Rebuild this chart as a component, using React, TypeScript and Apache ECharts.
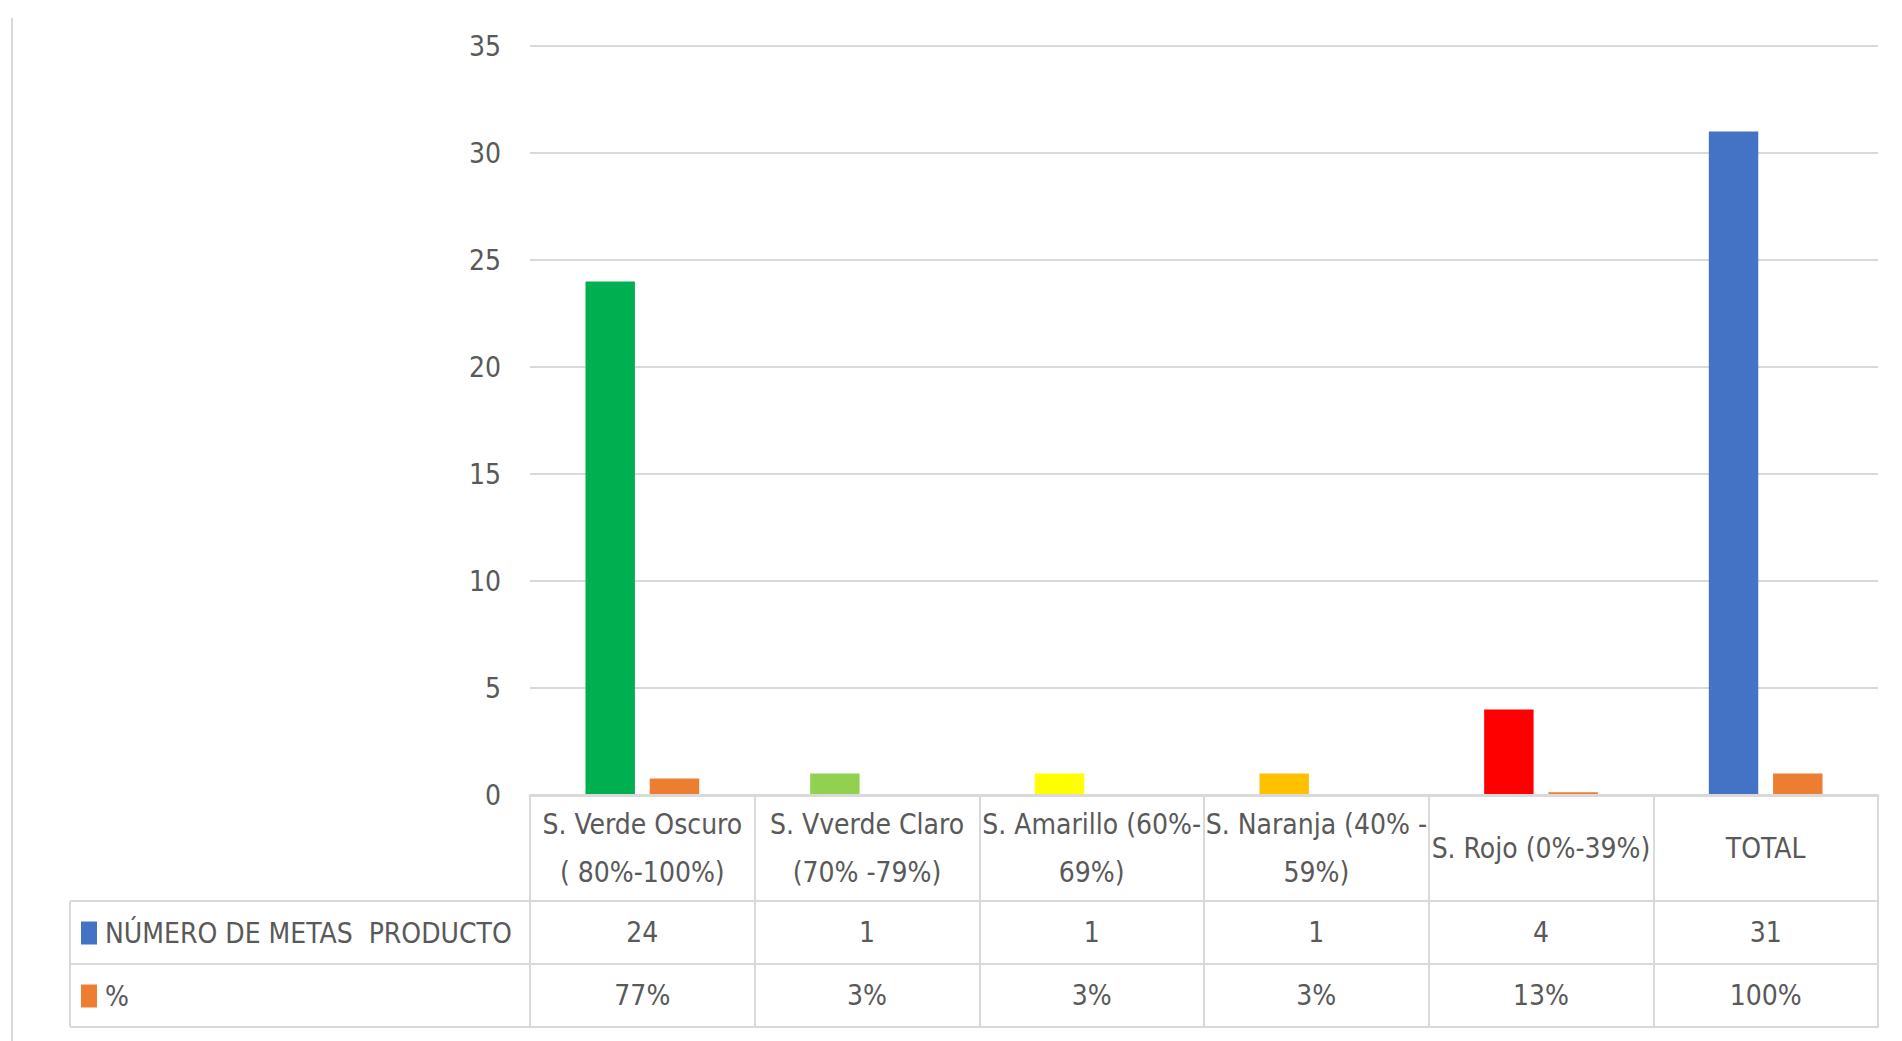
import React, { useEffect, useRef } from "react";
import * as echarts from "echarts";

const categories = [
  "S. Verde Oscuro\n( 80%-100%)",
  "S. Vverde Claro\n(70% -79%)",
  "S. Amarillo (60%-\n69%)",
  "S. Naranja (40% -\n59%)",
  "S. Rojo (0%-39%)",
  "TOTAL",
];
const metas = [24, 1, 1, 1, 4, 31];
const pct = [0.77, 0.03, 0.03, 0.03, 0.13, 1.0];
const barColors = ["#00B050", "#92D050", "#FFFF00", "#FFC000", "#FF0000", "#4472C4"];
const seriesNames = ["NÚMERO DE METAS  PRODUCTO", "%"];
const seriesColors = ["#4472C4", "#ED7D31"];
const yMin = 0;
const yMax = 35;
const yStep = 5;

const FONT = "'DejaVu Sans Condensed', 'Liberation Sans Narrow', sans-serif";
const FS = 28;
const TXT = "#595959";
const LINE = "#d9d9d9";

export default function App() {
  const ref = useRef<HTMLDivElement>(null);
  useEffect(() => {
    if (!ref.current) return;
    const chart = echarts.init(ref.current, null, { renderer: "svg" });
    const gridLeft = 530;
    const gridRight = 24;
    const gridTop = 46;
    const gridBottom = 246;
    const axisY = 1041 - gridBottom; // 795
    const row1 = 106;
    const row2 = 169;
    const row3 = 232;
    const lineStyle = { color: LINE, width: 2 };
    const baseX = {
      type: "category",
      data: categories,
      position: "bottom",
      axisTick: { show: false },
      splitLine: { show: false },
    };
    const legendBase = {
      orient: "vertical",
      left: 81,
      padding: 0,
      itemWidth: 16,
      itemHeight: 23,
      selectedMode: false,
      icon: "rect",
      textStyle: { fontFamily: FONT, fontSize: FS, color: TXT, padding: [0, 0, 0, 3] },
    };
    chart.setOption({
      animation: false,
      textStyle: { fontFamily: FONT },
      grid: { left: gridLeft, right: gridRight, top: gridTop, bottom: gridBottom },
      legend: [
        { ...legendBase, top: 919, data: [seriesNames[0]] },
        { ...legendBase, top: 982, data: [seriesNames[1]] },
      ],
      xAxis: [
        {
          ...baseX,
          z: 5,
          axisLine: { show: true, lineStyle: { color: LINE, width: 3 } },
          axisTick: { show: true, length: row3, interval: 0, lineStyle },
          axisLabel: {
            interval: 0,
            margin: 53,
            verticalAlign: "middle",
            lineHeight: 48,
            fontSize: FS,
            color: TXT,
            fontFamily: FONT,
          },
        },
        {
          ...baseX,
          offset: row1,
          axisLine: { show: true, lineStyle },
          axisLabel: {
            interval: 0,
            margin: 31.5,
            verticalAlign: "middle",
            fontSize: FS,
            color: TXT,
            fontFamily: FONT,
            formatter: (_v: string, i: number) => String(metas[i]),
          },
        },
        {
          ...baseX,
          offset: row2,
          axisLine: { show: true, lineStyle },
          axisLabel: {
            interval: 0,
            margin: 31.5,
            verticalAlign: "middle",
            fontSize: FS,
            color: TXT,
            fontFamily: FONT,
            formatter: (_v: string, i: number) => Math.round(pct[i] * 100) + "%",
          },
        },
        {
          ...baseX,
          offset: row3,
          axisLine: { show: true, lineStyle },
          axisLabel: { show: false },
        },
      ],
      yAxis: {
        type: "value",
        min: yMin,
        max: yMax,
        interval: yStep,
        axisLine: { show: false },
        axisTick: { show: false },
        splitLine: { show: true, lineStyle },
        axisLabel: { margin: 29, fontSize: FS, color: TXT, fontFamily: FONT },
      },
      series: [
        {
          name: seriesNames[0],
          type: "bar",
          barWidth: "22%",
          barGap: "30%",
          itemStyle: { color: seriesColors[0] },
          data: metas.map((v, i) => ({ value: v, itemStyle: { color: barColors[i] } })),
        },
        {
          name: seriesNames[1],
          type: "bar",
          barWidth: "22%",
          itemStyle: { color: seriesColors[1] },
          data: pct,
        },
      ],
      graphic: [
        { type: "line", shape: { x1: 12, y1: 18, x2: 12, y2: 1041 }, style: { stroke: LINE, lineWidth: 2 } },
        { type: "line", shape: { x1: 70, y1: axisY + row1, x2: 70, y2: axisY + row3 }, style: { stroke: LINE, lineWidth: 2 } },
        { type: "line", shape: { x1: 70, y1: axisY + row1, x2: gridLeft, y2: axisY + row1 }, style: { stroke: LINE, lineWidth: 2 } },
        { type: "line", shape: { x1: 70, y1: axisY + row2, x2: gridLeft, y2: axisY + row2 }, style: { stroke: LINE, lineWidth: 2 } },
        { type: "line", shape: { x1: 70, y1: axisY + row3, x2: gridLeft, y2: axisY + row3 }, style: { stroke: LINE, lineWidth: 2 } },
      ],
    });
    return () => chart.dispose();
  }, []);
  return (
    <div
      ref={ref}
      style={{ position: "absolute", left: 0, top: 0, width: "1902px", height: "1041px", background: "#fff" }}
    />
  );
}
